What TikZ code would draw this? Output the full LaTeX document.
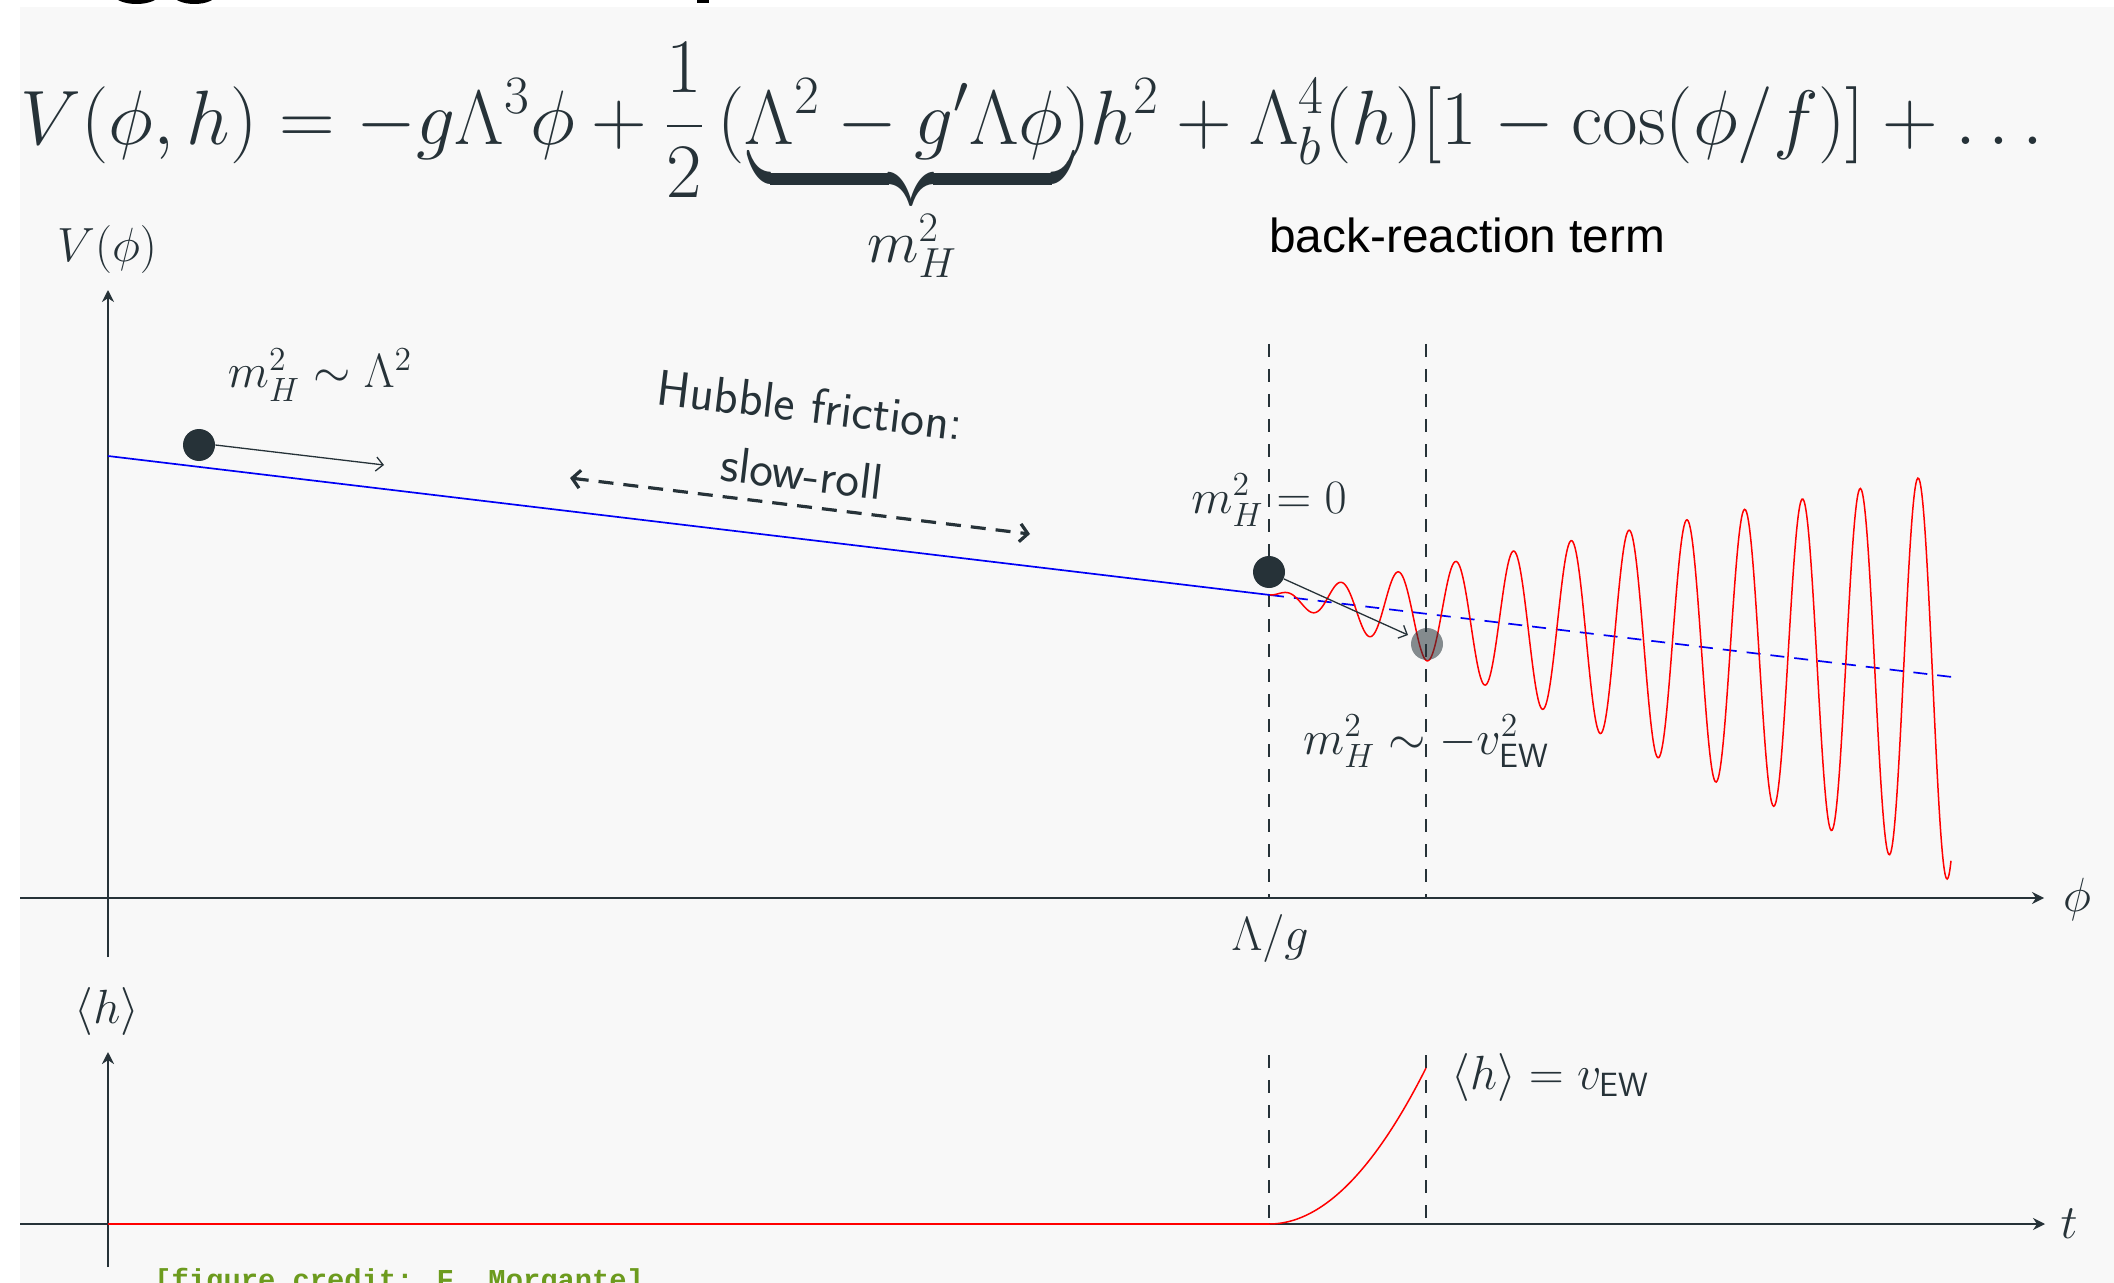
\RequirePackage{fix-cm}
\documentclass[tikz,border=0pt]{standalone}
\usepackage{amsmath}
\usepackage{graphicx}
\usepackage{fontspec}
\usetikzlibrary{arrows.meta}
\newfontfamily\arialfont{Liberation Sans}
\newfontfamily\creditfont{Liberation Mono}
\definecolor{bg}{RGB}{248,248,248}
\definecolor{ink}{RGB}{38,50,56}
\definecolor{creditgreen}{RGB}{108,155,30}
\definecolor{potblue}{RGB}{0,0,245}
\definecolor{osred}{RGB}{255,0,0}
\begin{document}
\begin{tikzpicture}[x=0.5pt,y=-0.5pt,
  axisline/.style={draw=ink, line width=1.2pt, -{Stealth[length=6pt,width=6pt]}},
  vdash/.style={draw=ink, line width=0.7pt, dash pattern=on 6.5pt off 6pt},
  ballnode/.style={circle, fill=ink, minimum size=16pt, inner sep=0pt},
  kick/.style={draw=ink, line width=0.65pt, -{Straight Barb[length=3.5pt,width=7pt]}},
  mlbl/.style={text=ink, inner sep=0pt, font=\fontsize{24}{28}\selectfont},
  slbl/.style={text=ink, inner sep=0pt, font=\fontsize{25.2}{30}\selectfont\sffamily},
]
\useasboundingbox (0,0) rectangle (2114,1283);
\fill[white] (0,0) rectangle (2114,1283);
\fill[bg] (20,7.3) rectangle (2114,1283);
% cut-off title fragments
\begin{scope}
\clip (0,0) rectangle (2114,7);
\fill[black] (136.5,-6) ellipse [x radius=23, y radius=10];
\fill[black] (194.5,-6) ellipse [x radius=22, y radius=10];
\fill[black] (697,-2) rectangle (709,3);
\end{scope}

% equation
\node[anchor=base west, inner sep=0pt, text=ink, font=\fontsize{38.55}{46}\selectfont] (eq) at (20,145)
  {$\displaystyle V(\phi,h) = -g\Lambda^3\phi + \frac{1}{2}\mkern3mu(\Lambda^2 - g'\Lambda\phi)h^2 + \Lambda_b^4(h)[1-\cos(\phi/f)] + \ldots$};
\node[anchor=north, inner sep=0pt, text=ink, font=\fontsize{38.55}{46}\selectfont] (brace) at (911,160)
  {\scalebox{1}[2.05]{$\underbrace{\hbox to 163pt{}}$}};
\node[anchor=base, text=ink, inner sep=0pt, font=\fontsize{30}{34}\selectfont] (mh) at (912,263) {$m_H^2$};
\node[anchor=base west, inner sep=0pt, font=\fontsize{23.9}{28}\selectfont\arialfont] (br) at (1269,253) {back-reaction term};

% coordinates
\coordinate (phiL) at (20,898);
\coordinate (phiR) at (2044,898);
\coordinate (vB) at (108,957);
\coordinate (vT) at (108,290);
\coordinate (tL) at (20,1224);
\coordinate (tR) at (2045,1224);
\coordinate (hB) at (108,1267);
\coordinate (hT) at (108,1052);

% upper dashed verticals
\coordinate (d1t) at (1269,344); \coordinate (d1b) at (1269,898);
\coordinate (d2t) at (1426,344); \coordinate (d2b) at (1426,898);
\draw[vdash] (d1t) -- (d1b);
\draw[vdash] (d2t) -- (d2b);
% lower dashed verticals
\coordinate (e1t) at (1269,1055); \coordinate (e1b) at (1269,1224);
\coordinate (e2t) at (1426,1055); \coordinate (e2b) at (1426,1224);
\draw[vdash] (e1t) -- (e1b);
\draw[vdash] (e2t) -- (e2b);

% axes
\draw[axisline] (phiL) -- (phiR);
\draw[axisline] (vB) -- (vT);
\draw[axisline] (tL) -- (tR);
\draw[axisline] (hB) -- (hT);

% axis labels
\node[mlbl, anchor=base] (Vlab) at (107,262) {$V(\phi)$};
\node[mlbl, anchor=base] (philab) at (2077,911) {$\phi$};
\node[mlbl, anchor=base] (Lg) at (1270,950) {$\Lambda/g$};
\node[mlbl, anchor=base] (hlab) at (107,1023) {$\langle h\rangle$};
\node[mlbl, anchor=base] (tlab) at (2069,1238) {$t$};

% potential
\coordinate (p0) at (108,456);
\coordinate (p1) at (1270,595);
\coordinate (p2) at (1952,677);
\draw[potblue, line width=0.85pt] (p0) -- (p1);
\draw[potblue, line width=0.85pt, dash pattern=on 7pt off 5pt] (p1) -- (p2);
\draw[osred, line width=0.75pt] plot[domain=1270:1951, samples=700, smooth]
  (\x, {456 + 0.1196*(\x-108) - 0.3*(\x-1270)*cos(6.22837*(\x-1340))});

% lower curve
\draw[osred, line width=1.2pt] (108,1224) -- (1269,1224);
\draw[osred, line width=0.75pt] plot[domain=1269:1426, samples=60, smooth]
  (\x, {1224-156*((\x-1269)/157)^2});

% balls and kicks
\node[ballnode] (b1) at (199,445) {};
\coordinate (k1) at (384,465);
\draw[kick] (b1.east) -- (k1);
\node[ballnode] (b2) at (1269,572) {};
\coordinate (k2) at (1408,635);
\draw[kick] (b2.-25) -- (k2);
\node[ballnode, fill opacity=0.55] (b3) at (1427,644) {};

% slow-roll arrow
\coordinate (sL) at (570,478);
\coordinate (sR) at (1030,534);
\draw[ink, line width=1.6pt, dash pattern=on 7.5pt off 5pt,
  {Straight Barb[length=4pt,width=9pt]}-{Straight Barb[length=4pt,width=9pt]}] (sL) -- (sR);
\node[slbl, rotate=-6.8] (hub) at (810,405) {Hubble friction:};
\node[slbl, rotate=-6.8] (slow) at (802,473) {slow-roll};

% labels
\node[mlbl, anchor=base] (l1) at (320,388) {$m_H^2 \sim \Lambda^2$};
\node[mlbl, anchor=base] (l2) at (1269,513) {$m_H^2 = 0$};
\node[mlbl, anchor=base] (l3) at (1426,754) {$m_H^2 \sim -v_{\mathsf{EW}}^2$};
\node[mlbl, anchor=base west] (l4) at (1451,1089) {$\langle h\rangle = v_{\mathsf{EW}}$};

% credit
\node[anchor=base west, inner sep=0pt, text=creditgreen, font=\fontsize{14.4}{16}\selectfont\creditfont\bfseries] (cred) at (154,1289) {[figure credit: F. Morgante]};
\end{tikzpicture}
\end{document}
